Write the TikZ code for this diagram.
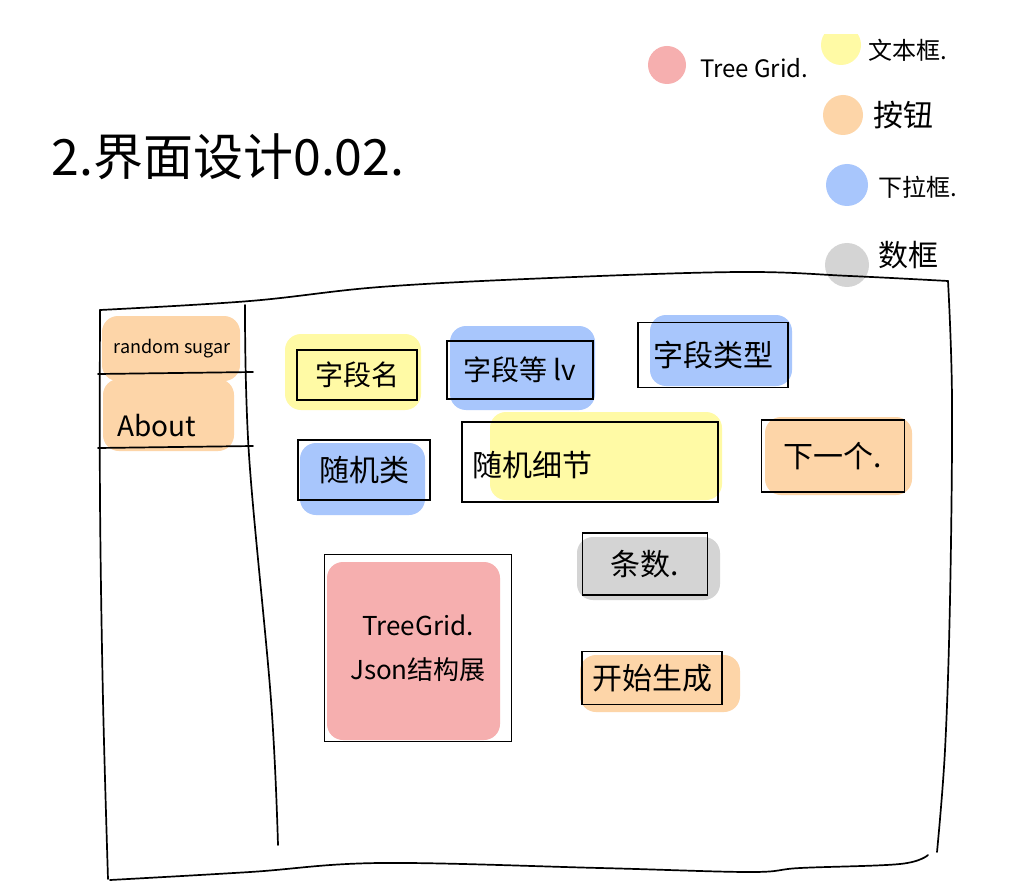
\documentclass[tikz,border=0pt]{standalone}
\usepackage{fontspec}
\setmainfont{Noto Sans CJK SC}
\definecolor{pinkc}{HTML}{F6AFAF}
\definecolor{yelc}{HTML}{FFFAA5}
\definecolor{orc}{HTML}{FDD5A8}
\definecolor{bluc}{HTML}{A8C6FC}
\definecolor{grayc}{HTML}{D4D4D4}
\tikzset{
  frame/.style={line width=1.7pt, line cap=round, line join=round},
  blob/.style={rounded corners=16pt, draw=none},
  uibox/.style={draw, line width=1.4pt, inner sep=0pt, align=center},
  dot/.style={circle, draw=none, inner sep=0pt},
  lgd/.style={anchor=west, inner sep=0pt},
}
\begin{document}
\begin{tikzpicture}[x=1pt,y=-1pt]
\useasboundingbox[fill=white] (0,0) rectangle (1035,885);

% title
\node[font=\fontsize{50}{54}\selectfont] (title) at (228,157) {2.界面设计0.02.};

% legend
\node[dot, fill=pinkc, minimum size=38pt] (lp) at (667,65) {};
\node[lgd, font=\fontsize{24}{28}\selectfont] (lpt) at (700,68) {Tree Grid.};
\begin{scope}
\clip (800,35) rectangle (890,90);
\node[dot, fill=yelc, minimum size=40pt] (ly) at (841,45) {};
\end{scope}
\node[lgd, font=\fontsize{24}{28}\selectfont] (lyt) at (868,50) {文本框.};
\node[dot, fill=orc, minimum size=40pt] (lo) at (843,115) {};
\node[lgd, font=\fontsize{30}{34}\selectfont] (lot) at (873,115) {按钮};
\node[dot, fill=bluc, minimum size=42pt] (lb) at (847,185) {};
\node[lgd, font=\fontsize{24}{28}\selectfont] (lbt) at (878,187) {下拉框.};
\node[dot, fill=grayc, minimum size=44pt] (lg) at (847,265) {};
\node[lgd, font=\fontsize{30}{34}\selectfont] (lgt) at (878,255) {数框};

% sidebar blobs
\fill[orc, blob] (102,316) rectangle (240,381);
\fill[orc, blob] (103,379) rectangle (234,451);

% component blobs
\fill[yelc, blob] (285,334) rectangle (421,410);
\fill[bluc, blob] (450,326) rectangle (595,410);
\fill[bluc, blob] (650,315) rectangle (792,386);
\fill[bluc, blob] (300,443) rectangle (425,515);
\fill[yelc, blob] (490,412) rectangle (722,500);
\fill[orc, blob] (765,417) rectangle (912,495);
\fill[grayc, blob] (577,537) rectangle (720,600);
\fill[pinkc, blob] (327,562) rectangle (500,740);
\fill[orc, blob] (580,655) rectangle (740,712);

% outer frame
\draw[frame] plot[smooth, tension=0.6] coordinates {(100,310) (250,301) (380,287) (550,278) (740,272) (850,276) (948,281)};
\draw[frame] plot[smooth, tension=0.6] coordinates {(948,281) (952,400) (950,600) (945,750) (937,852)};
\draw[frame] plot[smooth, tension=0.6] coordinates {(928,855) (900,864) (800,868) (750,872) (600,868) (380,863) (250,872) (110,880)};
\draw[frame] plot[smooth, tension=0.6] coordinates {(108,879) (103,700) (100,500) (100,310)};

% sidebar lines
\draw[frame] plot[smooth, tension=0.6] coordinates {(245,305) (249,455) (271,700) (278,845)};
\draw[frame] (98,374) -- (253,372);
\draw[frame] (98,448) -- (253,446);
\node[font=\fontsize{18}{22}\selectfont] (s1) at (172,349) {random sugar};
\node[font=\fontsize{28}{32}\selectfont] (s2) at (157,426) {About};

% components
\node[uibox, minimum width=120pt, minimum height=50pt, font=\fontsize{28}{32}\selectfont] (f1) at (357,375) {字段名};
\node[uibox, minimum width=146pt, minimum height=58pt, font=\fontsize{28}{32}\selectfont] (f2) at (520,370) {字段等 lv};
\node[uibox, minimum width=150pt, minimum height=65pt, font=\fontsize{30}{34}\selectfont] (f3) at (713,355) {字段类型};
\node[uibox, minimum width=132pt, minimum height=60pt, font=\fontsize{30}{34}\selectfont] (r1) at (364,470) {随机类};
\node[uibox, minimum width=256pt, minimum height=80pt] (r2) at (590,462) {};
\node[lgd, font=\fontsize{30}{34}\selectfont] (r2t) at (472,465) {随机细节};
\node[uibox, minimum width=143pt, minimum height=72pt, font=\fontsize{30}{34}\selectfont] (r3) at (833,456) {下一个.};
\node[uibox, minimum width=125pt, minimum height=62pt, font=\fontsize{30}{34}\selectfont] (c1) at (645,564) {条数.};
\node[uibox, minimum width=187pt, minimum height=187pt, font=\fontsize{26}{44}\selectfont] (t1) at (418,648) {TreeGrid.\\Json结构展};
\node[uibox, minimum width=140pt, minimum height=53pt, font=\fontsize{30}{34}\selectfont] (b1) at (652,678) {开始生成};
\end{tikzpicture}
\end{document}
